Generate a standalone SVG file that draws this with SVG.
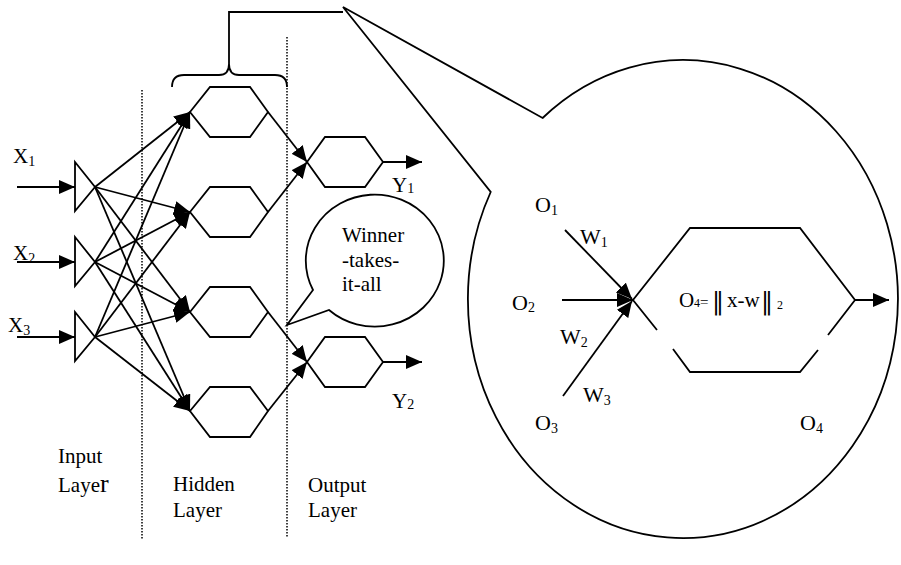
<svg xmlns="http://www.w3.org/2000/svg" width="901" height="565" viewBox="0 0 901 565">
  <style>
    .ln { fill: none; stroke: #000; stroke-width: 1.8; }
    .dot { fill: none; stroke: #000; stroke-width: 1.5; stroke-dasharray: 1.5 1.5; }
    .arr { marker-end: url(#head); }
    text { font-family: "Liberation Serif", "Times New Roman", serif; fill: #000; }
    .lbl { font-size: 21px; }
    .big { font-size: 22px; }
    .sub { font-size: 14px; }
    .norm { font-family: "DejaVu Serif", "DejaVu Sans", serif; font-size: 24px; }
  </style>
  <defs>
    <marker id="head" markerUnits="userSpaceOnUse" markerWidth="16" markerHeight="14" viewBox="0 0 16 14" refX="16" refY="7" orient="auto">
      <path d="M0,0 L16,7 L0,14 Z" fill="#000"/>
    </marker>
  </defs>
  <rect width="901" height="565" fill="#fff"/>

  <!-- layer separators -->
  <g id="separators">
    <line class="dot" x1="142" y1="90" x2="142" y2="540"/>
    <line class="dot" x1="287" y1="37" x2="287" y2="537"/>
  </g>

  <!-- input units -->
  <g id="in1"><path class="ln" d="M75,162 L95,187 L75,211 Z"/></g>
  <g id="in2"><path class="ln" d="M75,237 L95,262 L75,286 Z"/></g>
  <g id="in3"><path class="ln" d="M75,312 L95,337 L75,361 Z"/></g>

  <!-- hidden units -->
  <g id="h1"><path class="ln" d="M190,112 L210,87 L250,87 L268,112 L250,137 L210,137 Z"/></g>
  <g id="h2"><path class="ln" d="M190,212 L210,187 L250,187 L268,212 L250,237 L210,237 Z"/></g>
  <g id="h3"><path class="ln" d="M190,312 L210,287 L250,287 L268,312 L250,337 L210,337 Z"/></g>
  <g id="h4"><path class="ln" d="M190,411 L210,387 L250,387 L268,411 L250,437 L210,437 Z"/></g>

  <!-- output units -->
  <g id="out1"><path class="ln" d="M307,162 L325,137 L365,137 L383,162 L365,187 L325,187 Z"/></g>
  <g id="out2"><path class="ln" d="M307,362 L325,337 L365,337 L383,362 L365,387 L325,387 Z"/></g>

  <!-- brace over the hidden layer and its lead line -->
  <g id="brace">
    <path class="ln" d="M172,87 Q172,75 184,75 L219,75 Q229,75 229,64 Q229,75 239,75 L275,75 Q287,75 287,87"/>
    <path class="ln" d="M229,64 L229,12 L343,12"/>
  </g>

  <!-- enlarged view of one unit, as an oval callout -->
  <g id="detail">
    <path class="ln" d="M542.6,118 A215,239 0 1,1 490.7,192 L343,7 Z"/>
  </g>

  <!-- speech bubble -->
  <g id="wta">
    <path class="ln" d="M313,290 A69,66 0 1,1 329,310 L287,325 Z" fill="#fff"/>
    <text class="lbl" x="342" y="242">Winner</text>
    <text class="lbl" x="342" y="267">-takes-</text>
    <text class="lbl" x="342" y="291">it-all</text>
  </g>

  <!-- detail hexagon -->
  <g id="o4node">
    <path class="ln" d="M657,330 L633,300 L690,228 L800,228 L855,300 L828,335 M818,350 L800,372 L690,372 L673,349"/>
    <text x="679" y="307" font-size="21">O<tspan font-size="12" x="694" y="307">4</tspan><tspan font-size="15" x="700" y="307">=</tspan><tspan class="norm" x="712" y="309">‖</tspan><tspan font-size="21" x="727" y="307">x-w</tspan><tspan class="norm" x="761" y="309">‖</tspan><tspan font-size="12" x="777" y="309">2</tspan></text>
  </g>

  <!-- connectors -->
  <g id="connectors">
    <line class="ln arr" x1="17" y1="187" x2="75" y2="187"/>
    <line class="ln arr" x1="17" y1="262" x2="75" y2="262"/>
    <line class="ln arr" x1="17" y1="337" x2="75" y2="337"/>

    <line class="ln arr" x1="95" y1="187" x2="190" y2="112"/>
    <line class="ln arr" x1="95" y1="187" x2="190" y2="212"/>
    <line class="ln arr" x1="95" y1="187" x2="190" y2="312"/>
    <line class="ln arr" x1="95" y1="187" x2="190" y2="411"/>
    <line class="ln arr" x1="95" y1="262" x2="190" y2="112"/>
    <line class="ln arr" x1="95" y1="262" x2="190" y2="212"/>
    <line class="ln arr" x1="95" y1="262" x2="190" y2="312"/>
    <line class="ln arr" x1="95" y1="262" x2="190" y2="411"/>
    <line class="ln arr" x1="95" y1="337" x2="190" y2="112"/>
    <line class="ln arr" x1="95" y1="337" x2="190" y2="212"/>
    <line class="ln arr" x1="95" y1="337" x2="190" y2="312"/>
    <line class="ln arr" x1="95" y1="337" x2="190" y2="411"/>

    <line class="ln arr" x1="268" y1="112" x2="307" y2="162"/>
    <line class="ln arr" x1="268" y1="212" x2="307" y2="162"/>
    <line class="ln arr" x1="268" y1="312" x2="307" y2="362"/>
    <line class="ln arr" x1="268" y1="411" x2="307" y2="362"/>

    <line class="ln arr" x1="383" y1="162" x2="422" y2="162"/>
    <line class="ln arr" x1="383" y1="362" x2="422" y2="362"/>

    <line class="ln arr" x1="565" y1="230" x2="632" y2="299"/>
    <line class="ln arr" x1="562" y1="300" x2="633" y2="300"/>
    <line class="ln arr" x1="563" y1="396" x2="632" y2="301"/>
    <line class="ln arr" x1="855" y1="300" x2="889" y2="300"/>
  </g>

  <!-- labels -->
  <g id="labels">
    <text class="lbl" x="13" y="163">X<tspan class="sub" dy="3">1</tspan></text>
    <text class="lbl" x="13" y="260">X<tspan class="sub" dy="3">2</tspan></text>
    <text class="lbl" x="8" y="332">X<tspan class="sub" dy="3">3</tspan></text>
    <text class="lbl" x="392" y="192">Y<tspan class="sub" dy="1">1</tspan></text>
    <text class="lbl" x="392" y="408">Y<tspan class="sub" dy="1">2</tspan></text>

    <text class="lbl" x="58" y="463">Input</text>
    <text class="lbl" x="58" y="492">Laye<tspan font-size="26">r</tspan></text>
    <text class="lbl" x="173" y="491">Hidden</text>
    <text class="lbl" x="173" y="517">Layer</text>
    <text class="lbl" x="308" y="492">Output</text>
    <text class="lbl" x="308" y="517">Layer</text>

    <text class="big" x="535" y="212">O<tspan class="sub" dy="3">1</tspan></text>
    <text class="big" x="580" y="244">W<tspan class="sub" dy="3">1</tspan></text>
    <text class="big" x="512" y="310">O<tspan class="sub" dy="2">2</tspan></text>
    <text class="big" x="560" y="344">W<tspan class="sub" dy="3">2</tspan></text>
    <text class="big" x="583" y="402">W<tspan class="sub" dy="3">3</tspan></text>
    <text class="big" x="535" y="430">O<tspan class="sub" dy="3">3</tspan></text>
    <text class="big" x="800" y="430">O<tspan class="sub" dy="3">4</tspan></text>
  </g>
</svg>
